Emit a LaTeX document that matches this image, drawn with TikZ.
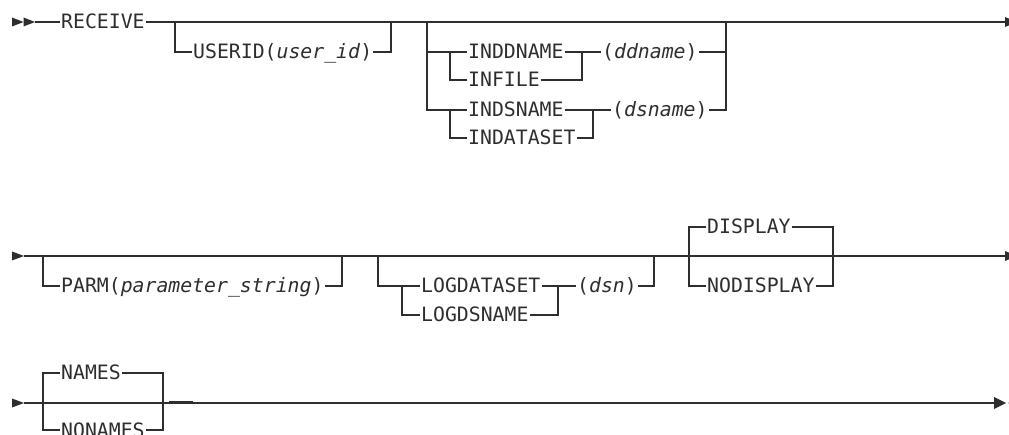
\documentclass[tikz,border=0pt]{standalone}
\usepackage{fontspec}
\setmonofont{DejaVu Sans Mono}
\definecolor{ink}{gray}{0.18}
\tikzset{
  kw/.style={font=\fontsize{19.8}{20}\selectfont\ttfamily, inner xsep=1pt, inner ysep=0pt,
             text height=17pt, text depth=3pt, anchor=west, text=ink},
  rail/.style={draw=ink, line width=1.3pt},
  tip/.style={fill=ink},
}
\begin{document}
\begin{tikzpicture}[x=1pt,y=-1pt]
\useasboundingbox (0,0) rectangle (1009,435);
\clip (0,0) rectangle (1009,435);

% ---------------- line 1 ----------------
\fill[tip] (12,17.5) -- (23.5,22) -- (12,26.5) -- cycle;
\fill[tip] (23.5,17.5) -- (35,22) -- (23.5,26.5) -- cycle;
\coordinate (s1) at (35,22);
\coordinate (e1) at (1005,22);
\node[kw] (recv) at (60,22) {RECEIVE};
\draw[rail] (s1) -- (recv.west);
\draw[rail] (recv.east) -- (e1);
\fill[tip] (1005,17) -- (1017,22) -- (1005,27) -- cycle;

% USERID
\coordinate (b1) at (175,22);
\coordinate (j1) at (391,22);
\node[kw] (userid) at (192,52) {USERID(\textit{user\_id})};
\draw[rail] (b1) |- (userid.west);
\draw[rail] (userid.east) -| (j1);

% INDDNAME / INFILE / INDSNAME / INDATASET
\coordinate (b2) at (427,22);
\coordinate (b3) at (450,52);
\coordinate (b4) at (450,110);
\coordinate (j3) at (582,52);
\coordinate (j4) at (593,110);
\coordinate (j2) at (726,22);
\node[kw] (inddn) at (467,52) {INDDNAME};
\node[kw] (infile) at (467,80) {INFILE};
\node[kw] (indsn) at (467,110) {INDSNAME};
\node[kw] (indds) at (467,138) {INDATASET};
\node[kw] (ddn) at (601,52) {(\textit{ddname})};
\node[kw] (dsname) at (611,110) {(\textit{dsname})};
\draw[rail] (b2) |- (inddn.west);
\draw[rail] (b2) |- (indsn.west);
\draw[rail] (b3) |- (infile.west);
\draw[rail] (b4) |- (indds.west);
\draw[rail] (inddn.east) -- (ddn.west);
\draw[rail] (infile.east) -| (j3);
\draw[rail] (indsn.east) -- (dsname.west);
\draw[rail] (indds.east) -| (j4);
\draw[rail] (ddn.east) -| (j2);
\draw[rail] (dsname.east) -| (j2);

% ---------------- line 2 ----------------
\fill[tip] (12,251.5) -- (24,256) -- (12,260.5) -- cycle;
\coordinate (s2) at (24,256);
\coordinate (e2) at (1005,256);
\draw[rail] (s2) -- (e2);
\fill[tip] (1005,251) -- (1017,256) -- (1005,261) -- cycle;

% PARM
\coordinate (b5) at (43,256);
\coordinate (j5) at (342,256);
\node[kw] (parm) at (60,286) {PARM(\textit{parameter\_string})};
\draw[rail] (b5) |- (parm.west);
\draw[rail] (parm.east) -| (j5);

% LOGDATASET / LOGDSNAME
\coordinate (b6) at (378,256);
\coordinate (b7) at (402,286);
\coordinate (j7) at (558,286);
\coordinate (j6) at (654,256);
\node[kw] (logds) at (420,286) {LOGDATASET};
\node[kw] (logdsn) at (420,315) {LOGDSNAME};
\node[kw] (dsn) at (576,286) {(\textit{dsn})};
\draw[rail] (b6) |- (logds.west);
\draw[rail] (b7) |- (logdsn.west);
\draw[rail] (logds.east) -- (dsn.west);
\draw[rail] (logdsn.east) -| (j7);
\draw[rail] (dsn.east) -| (j6);

% DISPLAY / NODISPLAY
\coordinate (b8) at (689,256);
\coordinate (j8) at (833,256);
\node[kw] (disp) at (706,227) {DISPLAY};
\node[kw] (nodisp) at (706,286) {NODISPLAY};
\draw[rail] (b8) |- (disp.west);
\draw[rail] (b8) |- (nodisp.west);
\draw[rail] (disp.east) -| (j8);
\draw[rail] (nodisp.east) -| (j8);

% ---------------- line 3 ----------------
\fill[tip] (12,398.5) -- (24,403) -- (12,407.5) -- cycle;
\coordinate (s3) at (24,403);
\coordinate (e3) at (994,403);
\draw[rail] (s3) -- (e3);
\fill[tip] (994,397) -- (1006,403) -- (994,409) -- cycle;
\fill[tip] (1008,403) -- (1020,397) -- (1020,409) -- cycle;

\coordinate (b9) at (43,403);
\coordinate (j9) at (163,403);
\node[kw] (names) at (60,373) {NAMES};
\node[kw] (nonames) at (60,430) {NONAMES};
\draw[rail] (b9) |- (names.west);
\draw[rail] (b9) |- (nonames.west);
\draw[rail] (names.east) -| (j9);
\draw[rail] (nonames.east) -| (j9);
\coordinate (t1) at (169,402.5);
\coordinate (t2) at (193,402.5);
\draw[draw=ink, line width=2.4pt] (t1) -- (t2);
\end{tikzpicture}
\end{document}
